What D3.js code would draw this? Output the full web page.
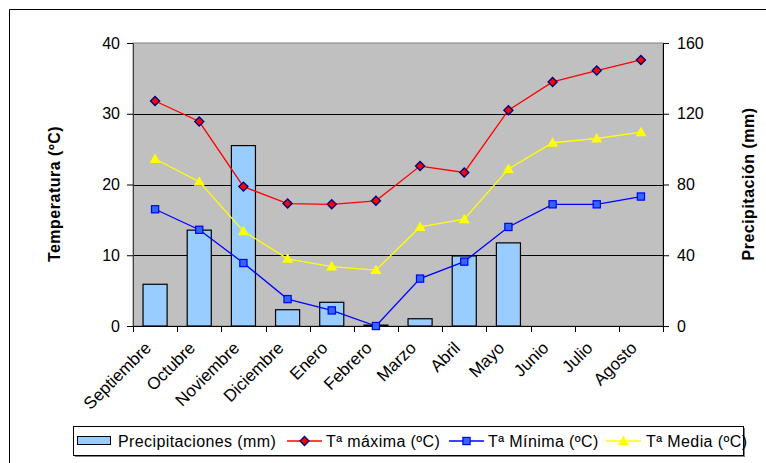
<!DOCTYPE html>
<html>
<head>
<meta charset="utf-8">
<script src="https://cdn.jsdelivr.net/npm/d3@7"></script>
<style>
  html, body { margin: 0; padding: 0; background: #fff; }
  svg { display: block; font-family: "Liberation Sans", Arial, sans-serif; }
</style>
</head>
<body>
<svg id="chart" width="766" height="463"></svg>
<script>
// Climograma: precipitación mensual (barras) y temperaturas (líneas)
const months = ["Septiembre", "Octubre", "Noviembre", "Diciembre", "Enero", "Febrero",
                "Marzo", "Abril", "Mayo", "Junio", "Julio", "Agosto"];
const precip = [23.6, 54.2, 102, 9.2, 13.4, 0.5, 4.1, 39.6, 47, 0, 0, 0];
const tMax   = [31.8, 28.9, 19.7, 17.3, 17.2, 17.7, 22.6, 21.7, 30.5, 34.5, 36.1, 37.6];
const tMin   = [16.5, 13.6, 8.9, 3.8, 2.2, 0.0, 6.7, 9.1, 14.0, 17.2, 17.2, 18.3];
const tMed   = [23.6, 20.4, 13.4, 9.5, 8.4, 7.9, 14.0, 15.1, 22.2, 25.9, 26.5, 27.4];
const tempTicks = [0, 10, 20, 30, 40];
const precTicks = [0, 40, 80, 120, 160];
const legendLabels = ["Precipitaciones (mm)", "Tª máxima (ºC)", "Tª Mínima (ºC)", "Tª Media (ºC)"];

const svg = d3.select("#chart");
const plot = { left: 133, right: 663, top: 43, bottom: 326 };

const x = d3.scaleBand().domain(months).range([plot.left, plot.right]).padding(0);
const yT = d3.scaleLinear().domain([0, 40]).range([plot.bottom, plot.top]);
const yP = d3.scaleLinear().domain([0, 160]).range([plot.bottom, plot.top]);
const cx = m => x(m) + x.bandwidth() / 2;

// Marco exterior del gráfico
svg.append("line").attr("x1", 9.5).attr("y1", 9.5).attr("x2", 766).attr("y2", 9.5)
  .attr("stroke", "#000").attr("stroke-width", 1);
svg.append("line").attr("x1", 9.5).attr("y1", 9.5).attr("x2", 9.5).attr("y2", 463)
  .attr("stroke", "#000").attr("stroke-width", 1);

// Área de trazado
svg.append("rect")
  .attr("x", plot.left).attr("y", plot.top)
  .attr("width", plot.right - plot.left).attr("height", plot.bottom - plot.top)
  .attr("fill", "#C0C0C0").attr("stroke", "#808080").attr("stroke-width", 1);

// Líneas de división horizontales
svg.append("g").selectAll("line").data(tempTicks.filter(t => t > 0 && t < 40)).join("line")
  .attr("x1", plot.left).attr("x2", plot.right)
  .attr("y1", d => Math.round(yT(d)) + 0.5).attr("y2", d => Math.round(yT(d)) + 0.5)
  .attr("stroke", "#000").attr("stroke-width", 1);

// Eje izquierdo (temperatura)
const axL = svg.append("g").attr("transform", `translate(${plot.left},0)`)
  .call(d3.axisLeft(yT).tickValues(tempTicks).tickSize(6).tickPadding(7));
// Eje derecho (precipitación)
const axR = svg.append("g").attr("transform", `translate(${plot.right},0)`)
  .call(d3.axisRight(yP).tickValues(precTicks).tickSize(6).tickPadding(8));
[axL, axR].forEach(a => {
  a.select(".domain").attr("stroke", "#000");
  a.selectAll(".tick line").attr("stroke", "#000");
  a.selectAll(".tick text").attr("font-size", 16).attr("fill", "#000")
    .attr("font-family", "Liberation Sans, Arial, sans-serif");
});
axL.select(".domain").attr("stroke", "#404040");

// Eje de categorías
const bandEdges = months.map(m => x(m)).concat([plot.right]);
svg.append("g").selectAll("line").data(bandEdges).join("line")
  .attr("x1", d => Math.round(d) + 0.5).attr("x2", d => Math.round(d) + 0.5)
  .attr("y1", plot.bottom).attr("y2", plot.bottom + 6)
  .attr("stroke", "#000");

// Barras de precipitación
const barW = x.bandwidth() * 0.545;
svg.append("g").selectAll("rect").data(months.map((m, i) => ({ m, v: precip[i] }))).join("rect")
  .attr("x", d => cx(d.m) - barW / 2)
  .attr("y", d => yP(d.v))
  .attr("width", barW)
  .attr("height", d => plot.bottom - yP(d.v))
  .attr("fill", "#99CCFF").attr("stroke", "#000").attr("stroke-width", 1.2);

svg.append("line").attr("x1", plot.left).attr("x2", plot.right)
  .attr("y1", plot.bottom + 0.5).attr("y2", plot.bottom + 0.5).attr("stroke", "#000");

// Etiquetas de meses
svg.append("g").selectAll("text").data(months).join("text")
  .attr("transform", m => `translate(${cx(m) - 3},${plot.bottom + 23}) rotate(-45)`)
  .attr("text-anchor", "end")
  .attr("font-size", 17)
  .attr("fill", "#000")
  .text(m => m);

// Series de temperatura
const line = d3.line().x((d, i) => cx(months[i])).y(d => yT(d));
const series = [
  { data: tMax, color: "#FF0000", marker: "diamond" },
  { data: tMin, color: "#0000FF", marker: "square" },
  { data: tMed, color: "#FFFF00", marker: "triangle" }
];

function drawMarker(g, type, px, py) {
  if (type === "diamond") {
    g.append("path").attr("d", `M${px},${py - 4.5}L${px + 4.5},${py}L${px},${py + 4.5}L${px - 4.5},${py}Z`)
      .attr("fill", "#FF0000").attr("stroke", "#000080").attr("stroke-width", 1.4);
  } else if (type === "square") {
    g.append("rect").attr("x", px - 3.6).attr("y", py - 3.6).attr("width", 7.2).attr("height", 7.2)
      .attr("fill", "#3366FF").attr("stroke", "#0000FF").attr("stroke-width", 1.2);
  } else {
    g.append("path").attr("d", `M${px},${py - 5.5}L${px + 5.5},${py + 4}L${px - 5.5},${py + 4}Z`)
      .attr("fill", "#FFFF00");
  }
}

series.forEach(s => {
  svg.append("path").datum(s.data).attr("d", line)
    .attr("fill", "none").attr("stroke", s.color).attr("stroke-width", 1.3);
  const g = svg.append("g");
  s.data.forEach((v, i) => drawMarker(g, s.marker, cx(months[i]), yT(v)));
});

// Títulos de ejes
svg.append("text")
  .attr("transform", `translate(60,194) rotate(-90)`)
  .attr("text-anchor", "middle").attr("font-size", 16).attr("font-weight", "bold")
  .attr("letter-spacing", 0.5)
  .text("Temperatura (ºC)");
svg.append("text")
  .attr("transform", `translate(754,184) rotate(-90)`)
  .attr("text-anchor", "middle").attr("font-size", 16).attr("font-weight", "bold")
  .attr("letter-spacing", 0.5)
  .text("Precipitación (mm)");

// Leyenda
const lg = { x: 73, y: 426, w: 670, h: 29 };
svg.append("rect").attr("x", lg.x + 2).attr("y", lg.y + 2).attr("width", lg.w).attr("height", lg.h)
  .attr("fill", "#808080");
svg.append("rect").attr("x", lg.x + 0.5).attr("y", lg.y + 0.5).attr("width", lg.w).attr("height", lg.h)
  .attr("fill", "#fff").attr("stroke", "#000").attr("stroke-width", 1);

const legY = 441;
const legendItems = [
  { type: "bar", sx: 77, tx: 118 },
  { type: "diamond", color: "#FF0000", sx: 287, tx: 326 },
  { type: "square", color: "#0000FF", sx: 449, tx: 488 },
  { type: "triangle", color: "#FFFF00", sx: 606, tx: 646 }
];
const lgG = svg.append("g");
legendItems.forEach((it, i) => {
  if (it.type === "bar") {
    lgG.append("rect").attr("x", it.sx + 0.5).attr("y", legY - 4.5).attr("width", 33).attr("height", 8)
      .attr("fill", "#99CCFF").attr("stroke", "#000").attr("stroke-width", 1);
  } else {
    lgG.append("line").attr("x1", it.sx).attr("x2", it.sx + 35).attr("y1", legY).attr("y2", legY)
      .attr("stroke", it.color).attr("stroke-width", 1.3);
    drawMarker(lgG, it.type, it.sx + 17.5, legY);
  }
  lgG.append("text").attr("x", it.tx).attr("y", legY + 5.5)
    .attr("font-size", 16).attr("letter-spacing", 0.4).attr("fill", "#000")
    .text(legendLabels[i]);
});
</script>
</body>
</html>
